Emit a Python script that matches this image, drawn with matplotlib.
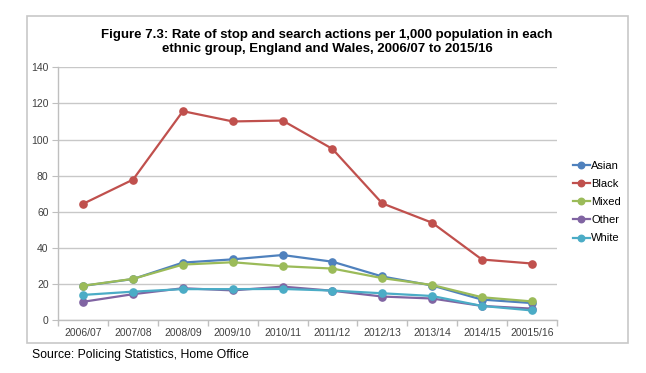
import matplotlib
matplotlib.use("Agg")
import matplotlib.pyplot as plt
from matplotlib.patches import Rectangle

years = ["2006/07", "2007/08", "2008/09", "2009/10", "2010/11",
         "2011/12", "2012/13", "2013/14", "2014/15", "20015/16"]
asian = [18.9, 22.7, 31.8, 33.6, 36.0, 32.3, 24.1, 19.1, 11.3, 9.4]
black = [64.4, 77.8, 115.7, 110.0, 110.5, 94.8, 64.6, 53.9, 33.5, 31.3]
mixed = [19.0, 22.8, 30.7, 32.0, 29.8, 28.5, 23.2, 19.4, 12.6, 10.3]
other = [10.1, 14.3, 17.6, 16.4, 18.5, 16.2, 13.0, 11.9, 7.8, 6.3]
white = [13.9, 15.7, 17.1, 17.1, 17.2, 16.3, 14.8, 13.3, 7.8, 5.3]

series = [("Asian", asian, "#4F81BD"),
          ("Black", black, "#C0504D"),
          ("Mixed", mixed, "#9BBB59"),
          ("Other", other, "#8064A2"),
          ("White", white, "#4BACC6")]

plt.rcParams['font.family'] = ['Liberation Sans', 'DejaVu Sans']

W, H = 646, 373
fig = plt.figure(figsize=(W / 100, H / 100), dpi=100)

# outer chart frame
fig.patches.append(Rectangle((27 / W, 1 - 343 / H), 601 / W, 327 / H,
                             transform=fig.transFigure, fill=False,
                             edgecolor="#C8C8C8", linewidth=1.2))

ax = fig.add_axes([58.3 / W, 1 - 320 / H, (556.7 - 58.3) / W, (320 - 67.3) / H])

x = list(range(len(years)))
for name, vals, col in series:
    ax.plot(x, vals, color=col, linewidth=1.6, marker="o", markersize=5.2,
            label=name)

ax.set_xlim(-0.5, len(years) - 0.5)
ax.set_ylim(0, 140)
ax.set_yticks(range(0, 141, 20))
ax.set_xticks(x)
ax.set_xticklabels(years)
ax.set_xticks([i - 0.5 for i in range(len(years) + 1)], minor=True)
ax.tick_params(axis="x", which="major", length=0, pad=6, labelsize=7.5,
               labelcolor="#404040")
ax.tick_params(axis="x", which="minor", length=4, color="#BFBFBF", width=1)
ax.tick_params(axis="y", length=4, color="#BFBFBF", labelsize=7.5,
               labelcolor="#404040", pad=3)
ax.grid(axis="y", color="#C8C8C8", linewidth=1)
ax.set_axisbelow(True)
for s in ["top", "right"]:
    ax.spines[s].set_visible(False)
for s in ["left", "bottom"]:
    ax.spines[s].set_color("#BFBFBF")
    ax.spines[s].set_linewidth(1)

leg = fig.legend(loc="upper left", bbox_to_anchor=(567 / W, 1 - 155.5 / H),
                 frameon=False, fontsize=8, handlelength=1.6,
                 handletextpad=0.1, labelspacing=0.73, borderpad=0,
                 markerscale=0.9)

fig.text(0.506, 1 - 42 / H,
         "Figure 7.3: Rate of stop and search actions per 1,000 population in each\n"
         "ethnic group, England and Wales, 2006/07 to 2015/16",
         ha="center", va="center", fontsize=9.5, fontweight="bold",
         linespacing=1.3)

fig.text(32 / W, 1 - 355 / H, "Source: Policing Statistics, Home Office",
         ha="left", va="center", fontsize=8.8, color="black")

fig.savefig("out.png", dpi=100)
